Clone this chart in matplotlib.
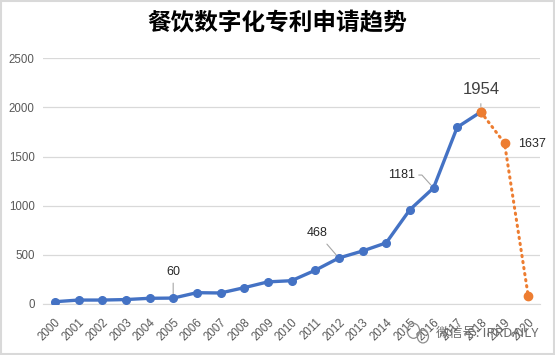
import matplotlib
matplotlib.use("Agg")
import matplotlib.pyplot as plt
from matplotlib.patches import Rectangle, Ellipse

# 数据
years = [str(y) for y in range(2000, 2021)]
applied = [23, 40, 40, 45, 58, 60, 115, 112, 166, 225, 237, 343, 468, 539,
           622, 959, 1181, 1798, 1954]            # 2000-2018
forecast = [1954, 1637, 84]                        # 2018-2020
yticks = [0, 500, 1000, 1500, 2000, 2500]
title = "餐饮数字化专利申请趋势"
watermark = "微信号: IPRDAILY"

plt.rcParams['font.family'] = ['Liberation Sans', 'Noto Sans CJK SC', 'DejaVu Sans']

fig = plt.figure(figsize=(5.55, 3.55), dpi=100)
ax = fig.add_axes([0.0775, 0.1437, 0.8955, 0.6921])

BLUE = "#4472C4"
ORANGE = "#ED7D31"
GRID = "#D9D9D9"
LABEL = "#595959"

xa = list(range(len(applied)))
xf = list(range(len(applied) - 1, len(applied) - 1 + len(forecast)))

ax.plot(xf, forecast, color=ORANGE, lw=2.2, ls=(0, (0.4, 1.6)),
        dash_capstyle='round', marker='o', ms=6, zorder=3)
ax.plot(xa, applied, color=BLUE, lw=2.4, marker='o', ms=5.5, zorder=4)
ax.plot(xa[-1], applied[-1], 'o', color=ORANGE, ms=6, zorder=5)

ax.set_xlim(-0.5, len(years) - 0.5)
ax.set_ylim(0, 2500)
ax.set_yticks(yticks)
ax.set_xticks(range(len(years)))
ax.set_xticklabels(years, rotation=45, ha='right', va='top',
                   rotation_mode='anchor', fontsize=8.3, color=LABEL)
ax.tick_params(axis='y', length=0, pad=6, labelsize=8.3, labelcolor=LABEL)
ax.tick_params(axis='x', length=0, pad=9)
ax.grid(axis='y', color=GRID, lw=0.9)
ax.set_axisbelow(True)
for s in ['top', 'right', 'left']:
    ax.spines[s].set_visible(False)
ax.spines['bottom'].set_color(GRID)

# 数据标签
lead = dict(color="#A6A6A6", lw=0.8)
ax.annotate("60", xy=(5, applied[5]), xytext=(5, 330), ha='center', va='center',
            fontsize=9, color="#262626",
            arrowprops=dict(arrowstyle='-', shrinkA=2, shrinkB=3, **lead))
ax.annotate("468", xy=(12, applied[12]), xytext=(11.1, 720), ha='center', va='center',
            fontsize=9, color="#262626",
            arrowprops=dict(arrowstyle='-', shrinkA=2, shrinkB=3, **lead))
ax.annotate("1181", xy=(16, applied[16]), xytext=(15.2, 1312), ha='right', va='center',
            fontsize=9, color="#262626",
            arrowprops=dict(arrowstyle='-', shrinkA=1, shrinkB=3,
                            connectionstyle='angle,angleA=0,angleB=132,rad=0', **lead))
ax.annotate("1954", xy=(18, forecast[0]), xytext=(18, 2185), ha='center', va='center',
            fontsize=12, color="#404040",
            arrowprops=dict(arrowstyle='-', shrinkA=3, shrinkB=4, **lead))
ax.text(20.15, forecast[1] - 10, "1637", ha='center', va='center',
        fontsize=9, color="#262626")

fig.text(0.5, 0.935, title, ha='center', va='center', fontsize=17,
         fontweight='bold', family=['Noto Sans CJK SC', 'DejaVu Sans'])
fig.text(0.97, 0.062, watermark, ha='right', va='center', fontsize=9.5,
         color="#6E6E6E", family=['Noto Sans CJK SC', 'DejaVu Sans'])
# 水印图标
fig.patches.append(Ellipse((0.745, 0.068), 0.022, 0.042, transform=fig.transFigure,
                           fill=False, ec="#8C8C8C", lw=0.9))
fig.patches.append(Ellipse((0.762, 0.052), 0.020, 0.036, transform=fig.transFigure,
                           fill=False, ec="#8C8C8C", lw=0.9))

fig.patches.append(Rectangle((0.001, 0.002), 0.997, 0.995, transform=fig.transFigure,
                             fill=False, ec=GRID, lw=1.5))

fig.savefig("out.png", dpi=100)
